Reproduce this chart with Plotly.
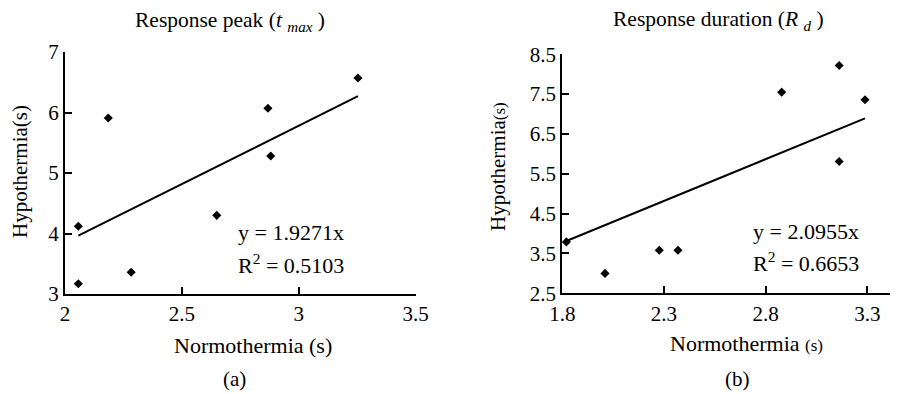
import plotly.graph_objects as go

W, H = 898, 394
OFF = 8  # default page body margin offset

# Panel (a): Response peak
norm_a = [2.057, 2.057, 2.185, 2.283, 2.649, 2.868, 2.880, 3.253]
hypo_a = [4.12, 3.17, 5.91, 3.36, 4.30, 6.07, 5.28, 6.57]
slope_a = 1.9271
r2_a = 0.5103

# Panel (b): Response duration
norm_b = [1.820, 2.010, 2.277, 2.369, 2.879, 3.162, 3.162, 3.289]
hypo_b = [3.79, 3.00, 3.58, 3.58, 7.55, 8.22, 5.81, 7.36]
slope_b = 2.0955
r2_b = 0.6653

xticks_a = [2, 2.5, 3, 3.5]
yticks_a = [3, 4, 5, 6, 7]
xticks_b = [1.8, 2.3, 2.8, 3.3]
yticks_b = [2.5, 3.5, 4.5, 5.5, 6.5, 7.5, 8.5]

FONT = "Liberation Serif, Times New Roman, serif"
FS = 21

FW, FH = W - OFF, H - OFF


def px(x):
    return (x - OFF) / FW


def py(y):
    return 1 - (y - OFF) / FH


fig = go.Figure()

marker = dict(symbol="diamond", size=7, color="black")

fig.add_trace(go.Scatter(x=norm_a, y=hypo_a, mode="markers", marker=marker,
                         xaxis="x", yaxis="y", showlegend=False, cliponaxis=False))
xa_line = [min(norm_a), max(norm_a)]
fig.add_trace(go.Scatter(x=xa_line, y=[slope_a * v for v in xa_line], mode="lines",
                         line=dict(color="black", width=2), xaxis="x", yaxis="y",
                         showlegend=False))

fig.add_trace(go.Scatter(x=norm_b, y=hypo_b, mode="markers", marker=marker,
                         xaxis="x2", yaxis="y2", showlegend=False, cliponaxis=False))
xb_line = [min(norm_b), max(norm_b)]
fig.add_trace(go.Scatter(x=xb_line, y=[slope_b * v for v in xb_line], mode="lines",
                         line=dict(color="black", width=2), xaxis="x2", yaxis="y2",
                         showlegend=False))

axis_common = dict(showline=True, linecolor="black", linewidth=2, ticks="inside",
                   ticklen=7, tickwidth=2, tickcolor="black", showgrid=False,
                   zeroline=False, automargin=False,
                   tickfont=dict(family=FONT, size=FS, color="black"))

fig.update_layout(
    width=FW, height=FH,
    margin=dict(l=0, r=0, t=0, b=0, pad=0, autoexpand=False),
    paper_bgcolor="white", plot_bgcolor="white",
    font=dict(family=FONT, size=FS, color="black"),
    xaxis=dict(domain=[px(65), px(415.7)], range=[2, 3.5], tickvals=xticks_a,
               ticktext=[f"{v:g}" for v in xticks_a], anchor="y", **axis_common),
    yaxis=dict(domain=[py(294), py(52)], range=[3, 7], tickvals=yticks_a,
               ticktext=[f"{v:g}" for v in yticks_a], anchor="x", **axis_common),
    xaxis2=dict(domain=[px(562.3), 1.0], range=[1.8, 1.8 + (898 - 562.3) / 203.3],
                tickvals=xticks_b, ticktext=[f"{v:.1f}" for v in xticks_b], anchor="y2",
                **axis_common),
    yaxis2=dict(domain=[py(293.3), py(54.3)], range=[2.5, 8.5], tickvals=yticks_b,
                ticktext=[f"{v:.1f}" for v in yticks_b], anchor="x2", **axis_common),
)


def ann(x, y, text, size=FS, angle=0, xanchor="center"):
    fig.add_annotation(x=px(x), y=py(y), xref="paper", yref="paper", text=text,
                       showarrow=False, xanchor=xanchor, yanchor="middle",
                       textangle=angle, font=dict(family=FONT, size=size, color="black"))


ann(229.5, 21, "Response peak (<i>t</i> <i><sub>max</sub></i> )", size=21.5)
ann(718, 20, "Response duration (<i>R</i> <i><sub>d</sub></i> )", size=21.5)
ann(253.5, 345, "Normothermia (s)", size=22)
ann(746.7, 343, "Normothermia <span style='font-size:17px'>(s)</span>", size=22)
ann(20, 172, "Hypothermia(s)", size=21, angle=-90)
ann(498, 167, "Hypothermia<span style='font-size:17px'>(s)</span>", size=21, angle=-90)
ann(236, 233, f"y = {slope_a}x", size=22, xanchor="left")
ann(236, 264, f"R<sup>2</sup> = {r2_a}", size=22, xanchor="left")
ann(751, 231, f"y = {slope_b}x", size=22, xanchor="left")
ann(751, 262, f"R<sup>2</sup> = {r2_b}", size=22, xanchor="left")
ann(234, 379, "(a)", size=21)
ann(737, 379, "(b)", size=21)

fig.write_html("out.html")
